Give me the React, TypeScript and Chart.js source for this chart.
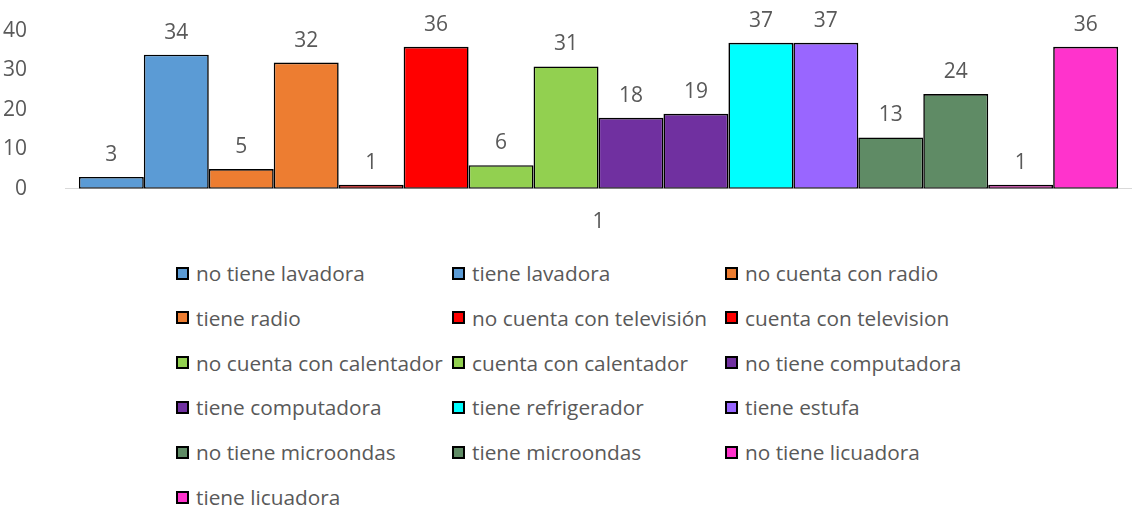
import React, { useEffect, useRef } from "react";
import { Chart, registerables } from "chart.js";

Chart.register(...registerables);

const categories = ["1"];
const seriesNames = [
  "no tiene lavadora",
  "tiene lavadora",
  "no cuenta con radio",
  "tiene radio",
  "no cuenta con televisión",
  "cuenta con television",
  "no cuenta con calentador",
  "cuenta con calentador",
  "no tiene computadora",
  "tiene computadora",
  "tiene refrigerador",
  "tiene estufa",
  "no tiene microondas",
  "tiene microondas",
  "no tiene licuadora",
  "tiene licuadora",
];
const seriesValues = [3, 34, 5, 32, 1, 36, 6, 31, 18, 19, 37, 37, 13, 24, 1, 36];
const seriesColors = [
  "#5B9BD5", "#5B9BD5",
  "#ED7D31", "#ED7D31",
  "#FF0000", "#FF0000",
  "#92D050", "#92D050",
  "#7030A0", "#7030A0",
  "#00FFFF",
  "#9966FF",
  "#5F8B65", "#5F8B65",
  "#FF33CC", "#FF33CC",
];
const yTicks = { min: 0, max: 40, step: 10 };

const FONT = "'Open Sans', 'Liberation Sans', sans-serif";
const TEXT = "#595959";
const FS = 21;

const labelPlugin = {
  id: "valueLabels",
  afterDatasetsDraw(chart: any) {
    const ctx = chart.ctx;
    ctx.save();
    ctx.font = `${FS}px ${FONT}`;
    ctx.fillStyle = TEXT;
    ctx.textAlign = "center";
    ctx.textBaseline = "middle";
    chart.data.datasets.forEach((ds: any, i: number) => {
      const meta = chart.getDatasetMeta(i);
      meta.data.forEach((bar: any, j: number) => {
        ctx.fillText(String(ds.data[j]), bar.x, bar.y - 22);
      });
    });
    ctx.restore();
  },
};

const legendCols = [176, 452, 725];
const legendRowTop = 273;
const legendRowGap = 44.8;

export default function App() {
  const ref = useRef<HTMLCanvasElement | null>(null);

  useEffect(() => {
    document.body.style.margin = "0";
    if (!ref.current) return;
    const chart = new Chart(ref.current, {
      type: "bar",
      data: {
        labels: categories,
        datasets: seriesNames.map((name, i) => ({
          label: name,
          data: [seriesValues[i]],
          backgroundColor: seriesColors[i],
          borderColor: "#000000",
          borderWidth: 1.6,
          borderSkipped: false,
          barPercentage: 1,
          categoryPercentage: 0.974,
        })),
      },
      options: {
        animation: false,
        responsive: false,
        maintainAspectRatio: false,
        layout: { padding: { top: 0, right: 0, bottom: 10, left: 0 } },
        plugins: {
          legend: { display: false },
          tooltip: { enabled: false },
        },
        scales: {
          x: {
            grid: { display: false },
            border: { display: true, color: "#D9D9D9", width: 1 },
            ticks: { color: TEXT, font: { family: FONT, size: FS }, padding: 13 },
          },
          y: {
            min: yTicks.min,
            max: yTicks.max,
            grid: { display: false },
            border: { display: false },
            ticks: {
              stepSize: yTicks.step,
              color: TEXT,
              font: { family: FONT, size: FS },
              padding: 30,
            },
            afterFit(scale: any) {
              scale.width = 65;
              scale.paddingTop = 31;
            },
          },
        },
      },
      plugins: [labelPlugin],
    });
    return () => chart.destroy();
  }, []);

  return (
    <div style={{ position: "relative", width: 1132, height: 508, background: "#fff", overflow: "hidden" }}>
      <canvas ref={ref} width={1132} height={258} style={{ position: "absolute", left: 0, top: 0 }} />
      {seriesNames.map((name, i) => {
        const col = i % 3;
        const row = Math.floor(i / 3);
        return (
          <div
            key={name}
            style={{
              position: "absolute",
              left: legendCols[col],
              top: legendRowTop + row * legendRowGap - 14,
              height: 28,
              display: "flex",
              alignItems: "center",
              fontFamily: FONT,
              fontSize: 20.8,
              color: TEXT,
              whiteSpace: "nowrap",
            }}
          >
            <span
              style={{
                display: "inline-block",
                width: 9,
                height: 9,
                border: "2px solid #000",
                background: seriesColors[i],
                marginRight: 7,
              }}
            />
            {name}
          </div>
        );
      })}
    </div>
  );
}
